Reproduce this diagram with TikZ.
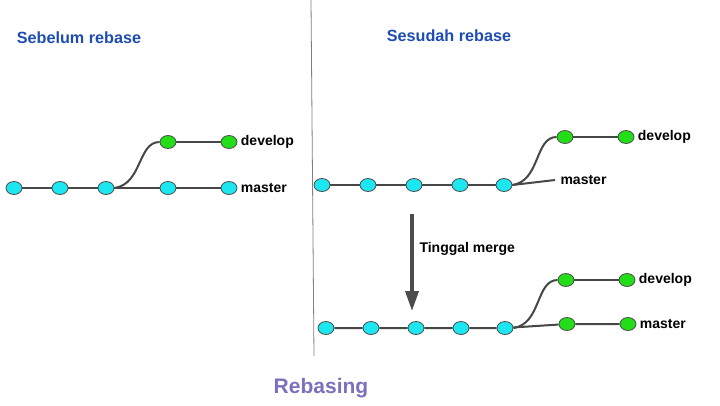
\documentclass[tikz,border=0pt]{standalone}
\usepackage{fontspec}
\setmainfont{Liberation Sans}
\usetikzlibrary{positioning}
\usetikzlibrary{shapes.geometric}
\usetikzlibrary{arrows.meta}
\definecolor{commitcyan}{HTML}{1CE6F0}
\definecolor{commitgreen}{HTML}{22DD18}
\definecolor{titleblue}{HTML}{1D4DB0}
\definecolor{titlepurple}{HTML}{7C70BF}

\begin{document}
\begin{tikzpicture}[x=1pt,y=-1pt,on grid,node distance=46pt,
        commit/.style={ellipse, draw=black!70, line width=0.8pt, inner sep=0pt,
            minimum width=16pt, minimum height=13pt},
        old/.style={commit, fill=commitcyan},
        new/.style={commit, fill=commitgreen},
        edge/.style={draw=black!72, line width=2pt},
        branch/.style={anchor=west, font=\bfseries\fontsize{14}{16}\selectfont},
        heading/.style={text=titleblue, font=\bfseries\fontsize{16.2}{19}\selectfont}]
        \useasboundingbox (0,0) rectangle (720,405);
        % Divider
        \coordinate (divtop) at (311,0);
        \coordinate (divbot) at (314,356);
        \draw[black!50, line width=0.8pt] (divtop) -- (divbot);
        % Titles
        \node[heading] (before) at (79,38) {Sebelum rebase};
        \node[heading] (after) at (449,36) {Sesudah rebase};
        \node[text=titlepurple, font=\bfseries\fontsize{21}{24}\selectfont] (title) at (321,388) {Rebasing};
        % Nodes, sebelum rebase
        \node[old]                                  (b1) at (14,188) {};
        \node[old, right=of b1]                     (b2) {};
        \node[old, right=of b2]                     (b3) {};
        \node[old, right=62pt of b3]                (bm1) {};
        \node[old, right=61pt of bm1]               (bm2) {};
        \node[new, above right=46pt and 62pt of b3] (bd1) {};
        \node[new, right=61pt of bd1]               (bd2) {};
        \draw[edge] (b1) -- (b2) -- (b3) -- (bm1) -- (bm2);
        \draw[edge] (bd1) -- (bd2);
        \draw[edge] (b3.east) .. controls +(28,-4) and +(-22,0) .. (bd1.west);
        \node[branch] (lbd) at (bd2.east) {develop};
        \node[branch] (lbm) at (bm2.east) {master};
        % Nodes, sesudah rebase
        \node[old]                                  (s1) at (322,185) {};
        \node[old, right=of s1]                     (s2) {};
        \node[old, right=of s2]                     (s3) {};
        \node[old, right=of s3]                     (s4) {};
        \node[old, right=44pt of s4]                (s5) {};
        \node[new, above right=48pt and 61pt of s5] (sd1) {};
        \node[new, right=61pt of sd1]               (sd2) {};
        \coordinate (smend) at (555,180);
        \draw[edge] (s1) -- (s2) -- (s3) -- (s4) -- (s5);
        \draw[edge] (s5.east) -- (smend);
        \draw[edge] (sd1) -- (sd2);
        \draw[edge] (s5.east) .. controls +(28,-4) and +(-22,0) .. (sd1.west);
        \node[branch] (lsd) at (sd2.east) {develop};
        \node[branch] (lsm) at ([xshift=2pt]smend) {master};
        % Arrow
        \coordinate (arrtop) at (412,214);
        \coordinate (arrbot) at (412,311);
        \draw[black!70, line width=3.5pt, -{Triangle[length=20pt,width=13pt]}] (arrtop) -- (arrbot);
        \node[anchor=west, font=\bfseries\fontsize{14}{16}\selectfont] (merge) at (416,249) {Tinggal merge};
        % Nodes, tinggal merge
        \node[old]                                  (t1) at (326,328) {};
        \node[old, right=45pt of t1]                (t2) {};
        \node[old, right=45pt of t2]                (t3) {};
        \node[old, right=45pt of t3]                (t4) {};
        \node[old, right=44pt of t4]                (t5) {};
        \node[new, above right=48pt and 61pt of t5] (td1) {};
        \node[new, right=61pt of td1]               (td2) {};
        \node[new, above right=4pt and 62pt of t5]  (tm1) {};
        \node[new, right=61pt of tm1]               (tm2) {};
        \draw[edge] (t1) -- (t2) -- (t3) -- (t4) -- (t5) -- (tm1) -- (tm2);
        \draw[edge] (td1) -- (td2);
        \draw[edge] (t5.east) .. controls +(28,-4) and +(-22,0) .. (td1.west);
        \node[branch] (ltd) at (td2.east) {develop};
        \node[branch] (ltm) at (tm2.east) {master};
    \end{tikzpicture}
\end{document}
